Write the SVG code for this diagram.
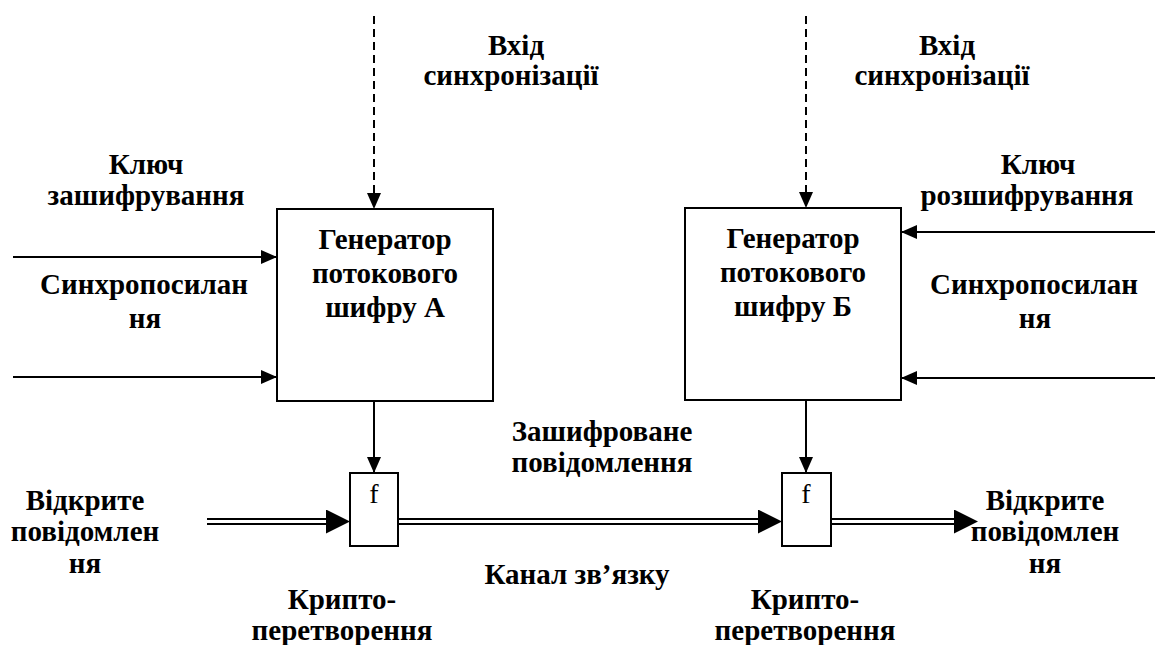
<svg xmlns="http://www.w3.org/2000/svg" width="1155" height="645" viewBox="0 0 1155 645">
  <defs>
    <style>
      .lbl { font-family: "Liberation Serif", "Times New Roman", serif; font-weight: bold; font-size: 29px; fill: #000; text-anchor: middle; }
      .fn { font-family: "Liberation Serif", "Times New Roman", serif; font-size: 28px; fill: #000; text-anchor: middle; }
      .box { fill: #fff; stroke: #000; stroke-width: 2; }
      .wire { fill: none; stroke: #000; stroke-width: 2; }
      .dash { fill: none; stroke: #000; stroke-width: 2; stroke-dasharray: 8 5; }
      .dbl { fill: none; stroke: #000; stroke-width: 2; }
    </style>
    <marker id="arr" markerUnits="userSpaceOnUse" markerWidth="16" markerHeight="14" refX="16" refY="7" orient="auto">
      <path d="M0,0 L16,7 L0,14 Z" fill="#000"/>
    </marker>
    <marker id="bigarr" markerUnits="userSpaceOnUse" markerWidth="24" markerHeight="24" refX="24" refY="12" orient="auto">
      <path d="M0,0 L24,12 L0,24 Z" fill="#000"/>
    </marker>
  </defs>

  <rect width="1155" height="645" fill="#fff"/>

  <!-- connectors -->
  <g id="connectors">
    <!-- synchronisation inputs (dashed) -->
    <path class="dash" d="M374,16 V209" marker-end="url(#arr)"/>
    <path class="dash" d="M806,16 V208" marker-end="url(#arr)"/>
    <!-- key and sync message inputs, generator A -->
    <path class="wire" d="M13,257 H277" marker-end="url(#arr)"/>
    <path class="wire" d="M13,377 H277" marker-end="url(#arr)"/>
    <!-- key and sync message inputs, generator B -->
    <path class="wire" d="M1155,232 H901" marker-end="url(#arr)"/>
    <path class="wire" d="M1155,378 H901" marker-end="url(#arr)"/>
    <!-- keystream to the crypto transforms -->
    <path class="wire" d="M374,401 V473" marker-end="url(#arr)"/>
    <path class="wire" d="M806,400 V473" marker-end="url(#arr)"/>
    <!-- message path: double lines -->
    <path class="dbl" d="M207,519 H330 M207,524 H330"/>
    <path stroke="none" fill="none" d="M207,521.5 H350" marker-end="url(#bigarr)"/>
    <path class="dbl" d="M398,519 H762 M398,524 H762"/>
    <path stroke="none" fill="none" d="M398,521.5 H782" marker-end="url(#bigarr)"/>
    <path class="dbl" d="M831,519 H956 M831,524 H956"/>
    <path stroke="none" fill="none" d="M831,521.5 H978" marker-end="url(#bigarr)"/>
  </g>

  <!-- generator A -->
  <g id="gen-a">
    <rect class="box" x="277" y="209" width="216" height="192"/>
    <text class="lbl" x="385" y="249">Генератор</text>
    <text class="lbl" x="385" y="283">потокового</text>
    <text class="lbl" x="385" y="317">шифру А</text>
  </g>

  <!-- generator B -->
  <g id="gen-b">
    <rect class="box" x="685" y="208" width="216" height="192"/>
    <text class="lbl" x="793" y="248">Генератор</text>
    <text class="lbl" x="793" y="282">потокового</text>
    <text class="lbl" x="793" y="316">шифру Б</text>
  </g>

  <!-- crypto transform A -->
  <g id="f-a">
    <rect class="box" x="350" y="473" width="48" height="73"/>
    <text class="fn" x="374" y="503">f</text>
  </g>

  <!-- crypto transform B -->
  <g id="f-b">
    <rect class="box" x="782" y="473" width="49" height="73"/>
    <text class="fn" x="806" y="503">f</text>
  </g>

  <!-- labels -->
  <g id="labels">
    <text class="lbl" x="516" y="55">Вхід</text>
    <text class="lbl" x="511" y="85">синхронізації</text>
    <text class="lbl" x="947" y="55">Вхід</text>
    <text class="lbl" x="942" y="85">синхронізації</text>

    <text class="lbl" x="146" y="174">Ключ</text>
    <text class="lbl" x="146" y="205">зашифрування</text>
    <text class="lbl" x="1038" y="174">Ключ</text>
    <text class="lbl" x="1027" y="205">розшифрування</text>

    <text class="lbl" x="144" y="294">Синхропосилан</text>
    <text class="lbl" x="145" y="328">ня</text>
    <text class="lbl" x="1034" y="294">Синхропосилан</text>
    <text class="lbl" x="1035" y="328">ня</text>

    <text class="lbl" x="602" y="441">Зашифроване</text>
    <text class="lbl" x="602" y="472">повідомлення</text>
    <text class="lbl" x="577" y="584">Канал зв’язку</text>

    <text class="lbl" x="85" y="510">Відкрите</text>
    <text class="lbl" x="85" y="541">повідомлен</text>
    <text class="lbl" x="85" y="573">ня</text>
    <text class="lbl" x="1045" y="510">Відкрите</text>
    <text class="lbl" x="1045" y="541">повідомлен</text>
    <text class="lbl" x="1045" y="573">ня</text>

    <text class="lbl" x="342" y="609">Крипто-</text>
    <text class="lbl" x="342" y="640">перетворення</text>
    <text class="lbl" x="805" y="609">Крипто-</text>
    <text class="lbl" x="805" y="640">перетворення</text>
  </g>
</svg>
